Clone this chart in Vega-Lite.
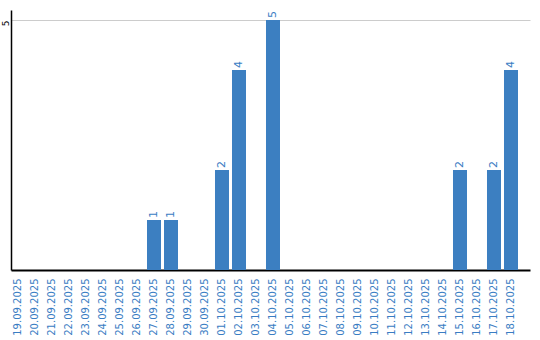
{
  "$schema": "https://vega.github.io/schema/vega-lite/v6.json",
  "width": 519,
  "height": 260,
  "padding": {"left": 11, "top": 10, "right": 10, "bottom": 70},
  "autosize": {"type": "none"},
  "background": "white",
  "config": {"view": {"stroke": null}, "font": "DejaVu Sans"},
  "data": {"values": [
    {"date": "19.09.2025", "count": 0},
    {"date": "20.09.2025", "count": 0},
    {"date": "21.09.2025", "count": 0},
    {"date": "22.09.2025", "count": 0},
    {"date": "23.09.2025", "count": 0},
    {"date": "24.09.2025", "count": 0},
    {"date": "25.09.2025", "count": 0},
    {"date": "26.09.2025", "count": 0},
    {"date": "27.09.2025", "count": 1},
    {"date": "28.09.2025", "count": 1},
    {"date": "29.09.2025", "count": 0},
    {"date": "30.09.2025", "count": 0},
    {"date": "01.10.2025", "count": 2},
    {"date": "02.10.2025", "count": 4},
    {"date": "03.10.2025", "count": 0},
    {"date": "04.10.2025", "count": 5},
    {"date": "05.10.2025", "count": 0},
    {"date": "06.10.2025", "count": 0},
    {"date": "07.10.2025", "count": 0},
    {"date": "08.10.2025", "count": 0},
    {"date": "09.10.2025", "count": 0},
    {"date": "10.10.2025", "count": 0},
    {"date": "11.10.2025", "count": 0},
    {"date": "12.10.2025", "count": 0},
    {"date": "13.10.2025", "count": 0},
    {"date": "14.10.2025", "count": 0},
    {"date": "15.10.2025", "count": 2},
    {"date": "16.10.2025", "count": 0},
    {"date": "17.10.2025", "count": 2},
    {"date": "18.10.2025", "count": 4}
  ]},
  "encoding": {
    "x": {
      "field": "date", "type": "ordinal", "sort": null,
      "scale": {"paddingInner": 0.1765, "paddingOuter": 0.353, "align": 0},
      "axis": {
        "title": null, "labelAngle": -90, "labelColor": "#3a7dc3", "labelFontSize": 10,
        "labelFont": "DejaVu Sans", "ticks": false, "labelPadding": 8,
        "domainColor": "black", "domainWidth": 2, "labelAlign": "right", "labelBaseline": "middle"
      }
    },
    "y": {
      "field": "count", "type": "quantitative",
      "scale": {"domain": [0, 5.2], "nice": false},
      "axis": {
        "title": null, "values": [5], "labelAngle": -90, "labelColor": "black", "labelFontSize": 9,
        "ticks": false, "tickSize": 0, "labelPadding": 6, "labelOffset": 3, "domainColor": "black", "domainWidth": 1.5,
        "gridColor": "#cccccc", "gridWidth": 1, "labelAlign": "center", "labelBaseline": "middle"
      }
    }
  },
  "layer": [
    {"mark": {"type": "bar", "color": "#3c7fc1"}},
    {
      "transform": [{"filter": "datum.count > 0"}],
      "mark": {"type": "text", "angle": -90, "align": "left", "baseline": "middle", "dx": 2, "color": "#3a7dc3", "fontSize": 11},
      "encoding": {"text": {"field": "count", "type": "quantitative"}}
    }
  ]
}
